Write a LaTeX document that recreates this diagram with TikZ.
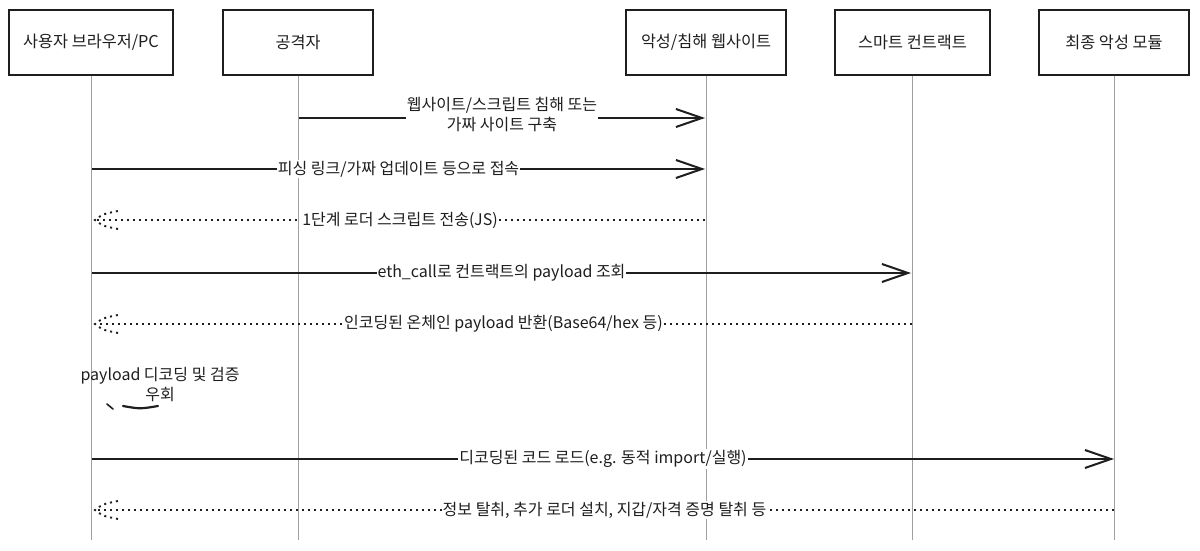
\documentclass[tikz,border=0pt]{standalone}
\usepackage{fontspec}
\setmainfont{Noto Sans CJK KR}
\usetikzlibrary{arrows.meta}
\definecolor{ink}{HTML}{1E1E1E}
\definecolor{lifegray}{HTML}{A0A0A0}
\begin{document}
\begin{tikzpicture}[x=1pt,y=-1pt,
  actor/.style={draw=ink, line width=1.8pt, minimum height=65pt, inner sep=0pt,
    font=\fontsize{16.3}{18}\selectfont, text=ink},
  life/.style={draw=lifegray, line width=1pt},
  msg/.style={draw=ink, line width=2.2pt, -{Straight Barb[length=26pt,width=18pt,line width=2pt]}},
  ret/.style={draw=ink, line width=2.2pt, dash pattern=on 2pt off 4pt},
  lbl/.style={fill=white, inner sep=1pt, text=ink, font=\fontsize{16}{20}\selectfont, align=center}
]
\useasboundingbox (0,0) rectangle (1200,551);

% actors
\node[actor, minimum width=164pt] (a1) at (91,42.5) {사용자 브라우저/PC};
\node[actor, minimum width=150pt] (a2) at (298,42.5) {공격자};
\node[actor, minimum width=160pt] (a3) at (706,42.5) {악성/침해 웹사이트};
\node[actor, minimum width=155pt] (a4) at (912.5,42.5) {스마트 컨트랙트};
\node[actor, minimum width=150pt] (a5) at (1114,42.5) {최종 악성 모듈};

% lifeline ends
\coordinate (e1) at (91,540);
\coordinate (e2) at (298,540);
\coordinate (e3) at (706,540);
\coordinate (e4) at (912.5,540);
\coordinate (e5) at (1114,540);
\draw[life] (a1.south) -- (e1);
\draw[life] (a2.south) -- (e2);
\draw[life] (a3.south) -- (e3);
\draw[life] (a4.south) -- (e4);
\draw[life] (a5.south) -- (e5);

% message points
\coordinate (m1s) at (299,118);  \coordinate (m1e) at (705,118);
\coordinate (m2s) at (92,169);   \coordinate (m2e) at (705,169);
\coordinate (m3s) at (705,220);  \coordinate (m3e) at (95,220);
\coordinate (m4s) at (92,273);   \coordinate (m4e) at (911,273);
\coordinate (m5s) at (912,324);  \coordinate (m5e) at (95,324);
\coordinate (m6s) at (92,459);   \coordinate (m6e) at (1114,459);
\coordinate (m7s) at (1114,510); \coordinate (m7e) at (95,510);

\draw[msg] (m1s) -- node[lbl, yshift=4pt] (t1) {웹사이트/스크립트 침해 또는\\가짜 사이트 구축} (m1e);
\draw[msg] (m2s) -- node[lbl] (t2) {피싱 링크/가짜 업데이트 등으로 접속} (m2e);
\draw[ret] (m3s) -- node[lbl] (t3) {1단계 로더 스크립트 전송(JS)} (m3e);
\draw[msg] (m4s) -- node[lbl] (t4) {eth\_call로 컨트랙트의 payload 조회} (m4e);
\draw[ret] (m5s) -- node[lbl] (t5) {인코딩된 온체인 payload 반환(Base64/hex 등)} (m5e);
\draw[msg] (m6s) -- node[lbl] (t6) {디코딩된 코드 로드(e.g. 동적 import/실행)} (m6e);
\draw[ret] (m7s) -- node[lbl] (t7) {정보 탈취, 추가 로더 설치, 지갑/자격 증명 탈취 등} (m7e);

% dotted arrow heads
\foreach \c in {m3e,m5e,m7e}{
  \draw[ret, line width=1.9pt] ([xshift=23pt,yshift=-9pt]\c) .. controls ([xshift=8pt,yshift=-6pt]\c) .. (\c)
     .. controls ([xshift=8pt,yshift=6pt]\c) .. ([xshift=23pt,yshift=9pt]\c);
}

% self message
\node[lbl, fill=none] (t8) at (160,385) {payload 디코딩 및 검증\\우회};
\coordinate (s1) at (107,404);
\coordinate (s2) at (113,409);
\coordinate (s3) at (123,406);
\coordinate (s4) at (158,406);
\draw[ink, line width=1.6pt, line cap=round] (s1) -- (s2);
\draw[ink, line width=2.2pt, line cap=round] (s3) .. controls (140,409) .. (s4);
\end{tikzpicture}
\end{document}
